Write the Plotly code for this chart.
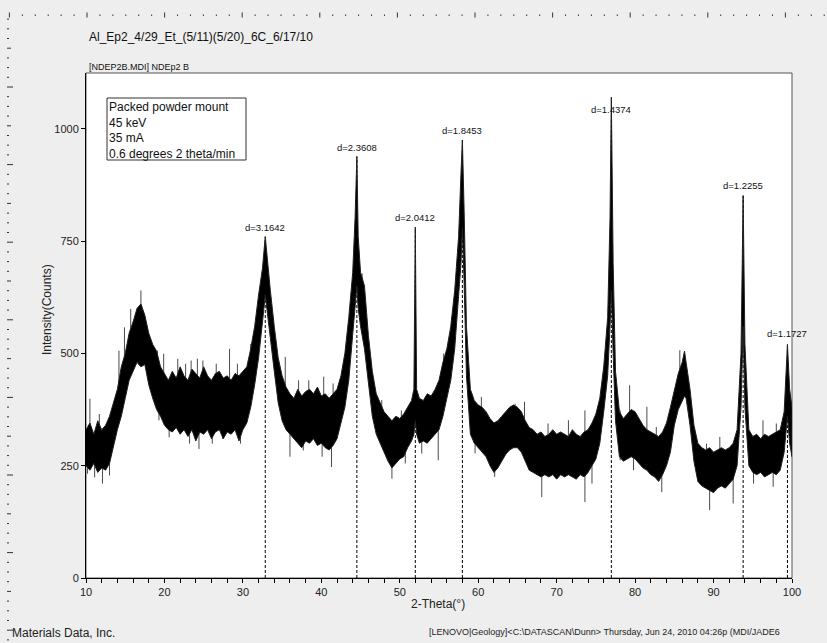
import plotly.graph_objects as go

# ---- scan data (2-theta in degrees, intensity in counts) ----
# upper / lower edge of the noisy intensity trace
two_theta = [
    10.0, 10.5, 11.0, 11.5, 12.0, 12.5, 13.0, 13.5, 14.0, 14.5, 15.0, 15.5, 16.0, 16.5,
    17.0, 17.5, 18.0, 18.5, 19.0, 19.5, 20.0, 20.5, 21.0, 21.5, 22.0, 22.5, 23.0, 23.5,
    24.0, 24.5, 25.0, 25.5, 26.0, 26.5, 27.0, 27.5, 28.0, 28.5, 29.0, 29.5, 30.0, 30.5,
    31.0, 31.5, 32.0, 32.5, 32.85, 33.0, 33.5, 34.0, 34.5, 35.0, 35.5, 36.0, 36.5, 37.0,
    37.5, 38.0, 38.5, 39.0, 39.5, 40.0, 40.5, 41.0, 41.5, 42.0, 42.5, 43.0, 43.5, 44.0,
    44.3, 44.53, 44.7, 45.0, 45.5, 46.0, 46.5, 47.0, 47.5, 48.0, 48.5, 49.0, 49.5, 50.0,
    50.5, 51.0, 51.5, 51.8, 51.98, 52.15, 52.5, 53.0, 53.5, 54.0, 54.5, 55.0, 55.5, 56.0,
    56.5, 57.0, 57.5, 57.8, 57.98, 58.2, 58.5, 59.0, 59.5, 60.0, 60.5, 61.0, 61.5, 62.0,
    62.5, 63.0, 63.5, 64.0, 64.5, 65.0, 65.5, 66.0, 66.5, 67.0, 67.5, 68.0, 68.5, 69.0,
    69.5, 70.0, 70.5, 71.0, 71.5, 72.0, 72.5, 73.0, 73.5, 74.0, 74.5, 75.0, 75.5, 76.0,
    76.5, 76.8, 76.97, 77.2, 77.5, 78.0, 78.5, 79.0, 79.5, 80.0, 80.5, 81.0, 81.5, 82.0,
    82.5, 83.0, 83.5, 84.0, 84.5, 85.0, 85.5, 86.0, 86.3, 86.5, 87.0, 87.5, 88.0, 88.5,
    89.0, 89.5, 90.0, 90.5, 91.0, 91.5, 92.0, 92.5, 93.0, 93.5, 93.77, 94.0, 94.5, 95.0,
    95.5, 96.0, 96.5, 97.0, 97.5, 98.0, 98.5, 99.0, 99.42, 99.7, 100.0,
]
counts_upper = [
    330, 345, 320, 350, 330, 340, 360, 390, 420, 470, 500, 545, 570, 600,
    610, 585, 545, 520, 505, 470, 455, 440, 460, 445, 470, 450, 440, 465,
    455, 445, 470, 450, 440, 455, 460, 445, 450, 440, 455, 450, 460, 470,
    510, 560, 630, 690, 760, 730, 640, 560, 490, 450, 425, 410, 400, 420,
    405, 415, 420, 410, 425, 405, 410, 400, 410, 420, 450, 500, 580, 680,
    800, 938, 760, 680, 650, 540, 460, 410, 390, 370, 360, 350, 360, 355,
    365, 380, 395, 420, 780, 420, 400, 395, 410, 405, 420, 440, 480, 510,
    560, 640, 760, 900, 975, 820, 560, 420, 395, 385, 380, 370, 355, 345,
    350, 360, 370, 380, 385, 380, 370, 350, 335, 330, 320, 325, 315, 320,
    330, 320, 325, 320, 315, 330, 320, 315, 325, 330, 345, 365, 400, 470,
    580, 800, 1070, 700, 460, 370, 355, 365, 375, 370, 355, 340, 330, 325,
    320, 315, 325, 345, 380, 420, 455, 480, 505, 480, 420, 340, 300, 290,
    285, 290, 280, 285, 290, 285, 290, 300, 330, 500, 850, 520, 330, 315,
    320, 310, 320, 315, 320, 325, 330, 370, 520, 420, 380,
]
counts_lower = [
    250, 240, 255, 235, 245, 240, 255, 290, 330, 360, 400, 440, 460, 480,
    470, 475, 430, 400, 375, 360, 340, 330, 325, 335, 320, 330, 315, 330,
    305, 325, 320, 330, 310, 325, 330, 310, 325, 320, 330, 305, 330, 345,
    380, 430, 490, 570, 630, 610, 530, 460, 390, 350, 330, 320, 310, 300,
    290, 305, 300, 310, 295, 300, 290, 285, 295, 310, 345, 380, 440, 540,
    600, 650, 600, 560, 510, 440, 360, 320, 300, 280, 260, 245, 255, 265,
    270, 290, 305, 320, 350, 320, 300, 305, 300, 310, 320, 330, 360, 400,
    440, 510, 620, 700, 780, 660, 450, 320, 300, 290, 280, 270, 250, 235,
    245, 260, 275, 285, 290, 290, 280, 260, 240, 235, 230, 225, 230, 225,
    230, 220, 230, 225, 230, 225, 220, 230, 225, 235, 250, 265, 300, 370,
    450, 560, 640, 500, 350, 270, 260, 265, 270, 265, 255, 245, 240, 230,
    225, 215, 230, 250, 280, 340, 375, 395, 405, 400, 340, 260, 215, 205,
    200, 195, 190, 200, 205, 200, 210, 220, 250, 380, 560, 380, 250, 235,
    230, 235, 225, 230, 235, 230, 240, 280, 360, 300, 270,
]

# isolated noise excursions beyond the band: position, tip, base inside band
spike_two_theta = [
    10.5, 11.7, 14.2, 14.9, 15.7, 17.0, 18.1, 19.1, 19.9, 21.7, 22.7, 23.4, 24.2, 24.9,
    26.6, 28.3, 29.3, 31.0, 35.4, 37.1, 38.4, 40.3, 41.5, 45.2, 47.7, 50.2, 54.5, 55.6,
    56.6, 59.2, 60.4, 64.7, 65.9, 68.9, 71.5, 73.6, 78.1, 79.3, 81.5, 82.7, 85.7, 89.1,
    90.8, 94.4, 96.3, 98.0,
    10.2, 11.1, 12.1, 13.0, 19.3, 20.6, 23.2, 24.4, 26.1, 27.4, 29.7, 36.0, 37.7, 40.1,
    41.3, 49.0, 50.7, 52.8, 54.9, 59.6, 62.1, 68.1, 73.6, 74.5, 78.1, 79.8, 83.4, 89.5,
    92.5, 95.1, 97.6,
]
spike_tip = [
    399, 365, 506, 558, 599, 640, 529, 506, 499, 488, 477, 484, 488, 484,
    477, 510, 477, 521, 492, 440, 440, 448, 433, 678, 396, 373, 418, 500,
    581, 410, 403, 388, 392, 344, 351, 373, 373, 429, 381, 336, 507, 299,
    314, 358, 351, 344,
    232, 224, 210, 228, 351, 313, 299, 287, 299, 310, 299, 270, 284, 270,
    247, 221, 255, 277, 262, 277, 225, 180, 169, 210, 262, 240, 191, 151,
    166, 210, 203,
]
spike_base = [
    290, 290, 380, 440, 490, 540, 480, 440, 400, 390, 390, 390, 380, 390,
    390, 390, 390, 440, 400, 360, 360, 350, 350, 590, 330, 310, 360, 420,
    480, 350, 330, 330, 320, 270, 270, 270, 310, 320, 290, 270, 420, 240,
    240, 290, 270, 280,
    290, 290, 290, 300, 440, 380, 380, 380, 380, 380, 380, 360, 360, 350,
    340, 300, 320, 350, 360, 340, 290, 270, 270, 290, 310, 320, 270, 240,
    250, 270, 270,
]

# ---- indexed reflections ----
peak_two_theta = [32.85, 44.53, 51.98, 57.98, 76.97, 93.77, 99.42]
peak_counts = [759, 938, 781, 974, 1021, 852, 522]
peak_labels = ["d=3.1642", "d=2.3608", "d=2.0412", "d=1.8453",
               "d=1.4374", "d=1.2255", "d=1.1727"]

x_ticks = [10, 20, 30, 40, 50, 60, 70, 80, 90, 100]
y_ticks = [0, 250, 500, 750, 1000]

FONT = "Liberation Sans, Arial, sans-serif"
W, H = 827, 643
ML, MR, MT, MB = 86, 35, 73, 65
PW, PH = W - ML - MR, H - MT - MB


def px(x):
    return (x - ML) / PW


def py(y):
    return (H - MB - y) / PH


fig = go.Figure()

# dotted markers from the baseline up to each indexed peak
for tt, c in zip(peak_two_theta, peak_counts):
    fig.add_trace(go.Scatter(
        x=[tt, tt], y=[0, c], mode="lines",
        line=dict(color="black", width=1, dash="3px,2px"),
        hoverinfo="skip", showlegend=False,
    ))

# noise spikes (vertical strokes)
sx, sy = [], []
for tt, tip, base in zip(spike_two_theta, spike_tip, spike_base):
    sx += [tt, tt, None]
    sy += [base, tip, None]
fig.add_trace(go.Scatter(
    x=sx, y=sy, mode="lines", line=dict(color="#4a4a4a", width=1),
    hoverinfo="skip", showlegend=False,
))

# noisy intensity band
fig.add_trace(go.Scatter(
    x=two_theta + two_theta[::-1],
    y=counts_upper + counts_lower[::-1],
    mode="lines", fill="toself", fillcolor="black",
    line=dict(color="#202020", width=1),
    hoverinfo="skip", showlegend=False,
))

annotations = []
for tt, c, lab in zip(peak_two_theta, peak_counts, peak_labels):
    annotations.append(dict(
        x=tt, y=c, xref="x", yref="y", text=lab, showarrow=False,
        xanchor="center", yanchor="bottom", yshift=2,
        font=dict(family=FONT, size=9.5, color="#111111"),
    ))

annotations += [
    dict(x=px(87), y=py(37), xref="paper", yref="paper", xanchor="left", yanchor="middle",
         text="Al_Ep2_4/29_Et_(5/11)(5/20)_6C_6/17/10", showarrow=False,
         font=dict(family=FONT, size=12, color="#111111")),
    dict(x=px(87), y=py(67), xref="paper", yref="paper", xanchor="left", yanchor="middle",
         text="[NDEP2B.MDI] NDEp2 B", showarrow=False,
         font=dict(family=FONT, size=9, color="#111111")),
    dict(x=px(108), y=py(99), xref="paper", yref="paper", xanchor="left", yanchor="top",
         text="Packed powder mount<br>45 keV<br>35 mA<br>0.6 degrees 2 theta/min",
         align="left", showarrow=False, borderpad=0,
         font=dict(family=FONT, size=12, color="#111111")),
    dict(x=px(47), y=py(310), xref="paper", yref="paper", xanchor="center", yanchor="middle",
         text="Intensity(Counts)", textangle=-90, showarrow=False,
         font=dict(family=FONT, size=12, color="#222222")),
    dict(x=px(438), y=py(604), xref="paper", yref="paper", xanchor="center", yanchor="middle",
         text="2-Theta(°)", showarrow=False,
         font=dict(family=FONT, size=12, color="#222222")),
    dict(x=px(10), y=py(633), xref="paper", yref="paper", xanchor="left", yanchor="middle",
         text="Materials Data, Inc.", showarrow=False,
         font=dict(family=FONT, size=12, color="#222222")),
    dict(x=px(427), y=py(632), xref="paper", yref="paper", xanchor="left", yanchor="middle",
         text="[LENOVO|Geology]&lt;C:\\DATASCAN\\Dunn&gt; Thursday, Jun 24, 2010 04:26p (MDI/JADE6",
         showarrow=False, font=dict(family=FONT, size=9, color="#222222")),
]

shapes = []
# frame around the plotting area
shapes.append(dict(type="rect", xref="paper", yref="paper", x0=0, x1=1, y0=0, y1=1,
                   line=dict(color="#555555", width=1), layer="below"))
# box around the measurement conditions
shapes.append(dict(type="rect", xref="paper", yref="paper",
                   x0=px(107), x1=px(246), y0=py(98), y1=py(160),
                   line=dict(color="#333333", width=1), fillcolor="white"))

# page ruler along the top edge
step_x = 77.6 / 6
j = -6
while True:
    xp = 87 + step_x * j
    if xp > W:
        break
    if j % 6 == 0:
        y0, y1 = 12.5, 17.5
    else:
        y0, y1 = 14.5, 16.0
    shapes.append(dict(type="line", xref="paper", yref="paper",
                       x0=px(xp), x1=px(xp), y0=py(y0), y1=py(y1),
                       line=dict(color="#333333", width=1)))
    j += 1

# page ruler along the left edge
step_y = 77.6 / 8
j = -7
while True:
    yp = 87 + step_y * j
    if yp > H:
        break
    if j % 8 == 0:
        x1 = 13
    elif j % 4 == 0:
        x1 = 11
    else:
        x1 = 9
    shapes.append(dict(type="line", xref="paper", yref="paper",
                       x0=px(7), x1=px(x1), y0=py(yp), y1=py(yp),
                       line=dict(color="#333333", width=1)))
    j += 1

fig.update_layout(
    width=W, height=H,
    margin=dict(l=ML, r=MR, t=MT, b=MB, pad=0),
    paper_bgcolor="#eeeeee", plot_bgcolor="white",
    showlegend=False,
    font=dict(family=FONT, size=11, color="#222222"),
    annotations=annotations, shapes=shapes,
    xaxis=dict(
        range=[10, 100], tickmode="array", tickvals=x_ticks,
        ticks="outside", ticklen=4, tickcolor="black", showgrid=False, zeroline=False,
        showline=True, linecolor="black", linewidth=1,
        minor=dict(dtick=2, ticks="outside", ticklen=4, tickcolor="black", showgrid=False),
        tickfont=dict(family=FONT, size=11, color="#222222"),
    ),
    yaxis=dict(
        range=[0, 1124], tickmode="array", tickvals=y_ticks,
        ticks="outside", ticklen=4, tickcolor="black", showgrid=False, zeroline=False,
        showline=True, linecolor="black", linewidth=1,
        tickfont=dict(family=FONT, size=11, color="#222222"),
    ),
)

fig.write_html("out.html")
